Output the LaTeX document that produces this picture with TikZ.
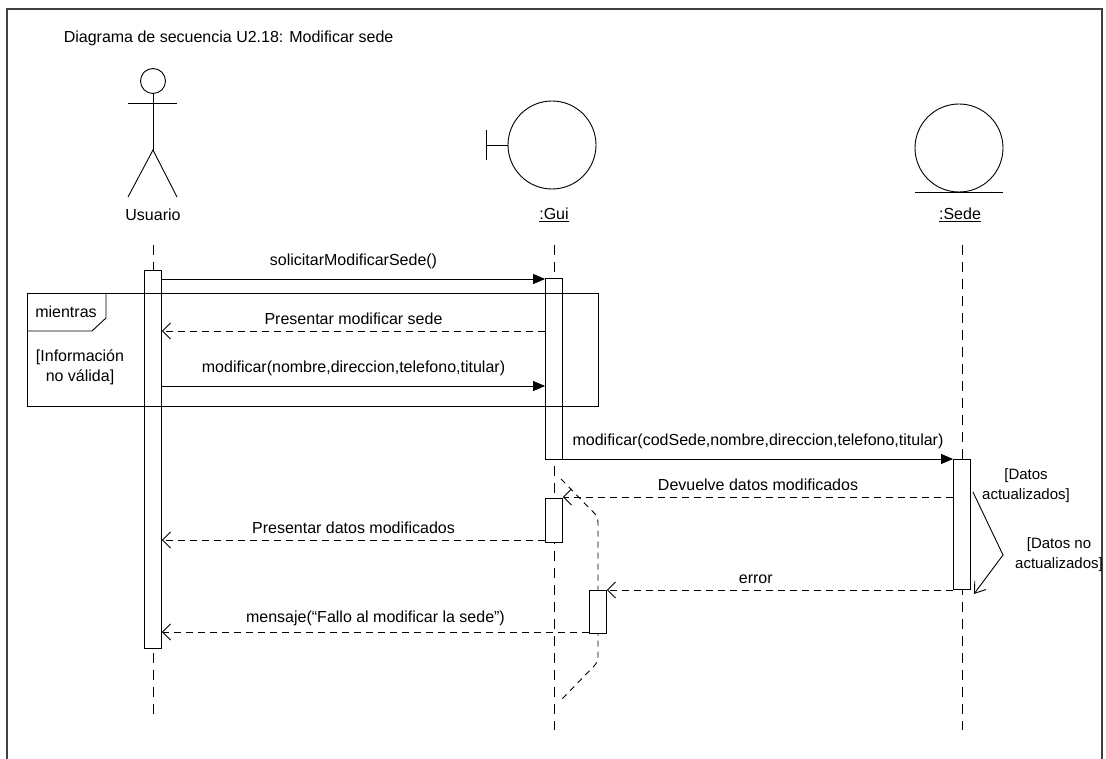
\documentclass[tikz,border=0pt]{standalone}
\usepackage{fontspec}
\setmainfont{Liberation Sans}
\usetikzlibrary{arrows.meta}
\begin{document}
\begin{tikzpicture}[x=1pt,y=-1pt,line width=0.9pt,
  font=\fontsize{16}{20}\selectfont,
  lifeline/.style={dash pattern=on 10pt off 7pt},
  bar/.style={draw,fill=white,minimum width=17pt,inner sep=0pt},
  call/.style={-{Triangle[length=12pt,width=10pt]}},
  reply/.style={dash pattern=on 7pt off 5pt,-{Straight Barb[length=8pt,width=16pt]}},
  calllbl/.style={above=10pt,inner sep=0pt},
  replylbl/.style={above=6pt,inner sep=0pt}]
\useasboundingbox (0,0) rectangle (1106,759);
% marco
\draw[line width=1.6pt,black!75] (1102,770) -- (1102,9) -- (7,9) -- (7,770);
\node[anchor=west] (title) at (60,38) {Diagrama de secuencia U2.18: Modificar sede};
% actor Usuario
\node[circle,draw,minimum size=25pt,inner sep=0pt] (head) at (153,81) {};
\draw (128,103) -- (177,103);
\draw (head.south) -- (153,150) coordinate (hip);
\draw (128,197) -- (hip) -- (177,197);
\node (usuario) at (153,215) {Usuario};
% interfaz :Gui
\node[circle,draw,minimum size=88pt,inner sep=0pt] (gui) at (552,145) {};
\draw (gui.west) -- ++(-21,0) coordinate (guiBar);
\draw (guiBar) ++(0,-15) -- ++(0,30);
\node (guiLbl) at (554,215) {\underline{:Gui}};
% entidad :Sede
\node[circle,draw,minimum size=88pt,inner sep=0pt] (sede) at (959,148) {};
\draw (sede.south) ++(-44,0) -- ++(88,0);
\node (sedeLbl) at (960,215) {\underline{:Sede}};
% lineas de vida
\draw[lifeline] (153,245) -- (153,720);
\draw[lifeline] (554,245) -- (554,730);
\draw[lifeline] (962,245) -- (962,730);
\draw[dash pattern=on 6pt off 5pt,rounded corners=5pt] (561,479) -- (598,517) -- (598,662) -- (561,700);
% activaciones
\node[bar,minimum height=378pt] (uBar) at (153,459) {};
\node[bar,minimum height=181pt] (gBar1) at (554,368.5) {};
\node[bar,minimum height=44pt] (gBar2) at (554,520) {};
\node[bar,minimum height=43pt] (gBar3) at (598,611.5) {};
\node[bar,minimum height=130pt] (sBar) at (962,524) {};
% fragmento mientras
\draw (27,293) rectangle (598,406);
\draw (27,331) -- (92,331) -- (106,318) -- (106,293);
\node (mientras) at (66,312) {mientras};
\node[align=center] (guard) at (80,367) {[Información\\no válida]};
% mensajes
\draw[call] (uBar.east |- 0,279) -- (gBar1.west |- 0,279) node[midway,calllbl] {solicitarModificarSede()};
\draw[reply] (gBar1.west |- 0,331) -- (uBar.east |- 0,331) node[midway,replylbl] {Presentar modificar sede};
\draw[call] (uBar.east |- 0,386) -- (gBar1.west |- 0,386) node[midway,calllbl] {modificar(nombre,direccion,telefono,titular)};
\draw[call] (gBar1.east |- 0,459) -- (sBar.west |- 0,459) node[midway,calllbl] {modificar(codSede,nombre,direccion,telefono,titular)};
\draw[reply] (sBar.west |- 0,497) -- (gBar2.east |- 0,497) node[midway,replylbl] {Devuelve datos modificados};
\draw[reply] (gBar2.west |- 0,540) -- (uBar.east |- 0,540) node[midway,replylbl] {Presentar datos modificados};
\draw[reply] (sBar.west |- 0,590) -- (gBar3.east |- 0,590) node[pos=0.57,replylbl] {error};
\draw[reply] (gBar3.west |- 0,632) -- (uBar.east |- 0,632) node[midway,replylbl] {mensaje(“Fallo al modificar la sede”)};
% condiciones
\node[align=center,font=\fontsize{15}{20}\selectfont] (okCond) at (1026,486) {[Datos\\actualizados]};
\node[align=center,font=\fontsize{15}{20}\selectfont] (noCond) at (1059,555) {[Datos no\\actualizados]};
\draw[-{Straight Barb[length=10pt,width=14pt]}] ([xshift=2pt]sBar.east |- 0,492) -- (1003,555) -- ([xshift=3pt]sBar.east |- 0,594);
\end{tikzpicture}
\end{document}
